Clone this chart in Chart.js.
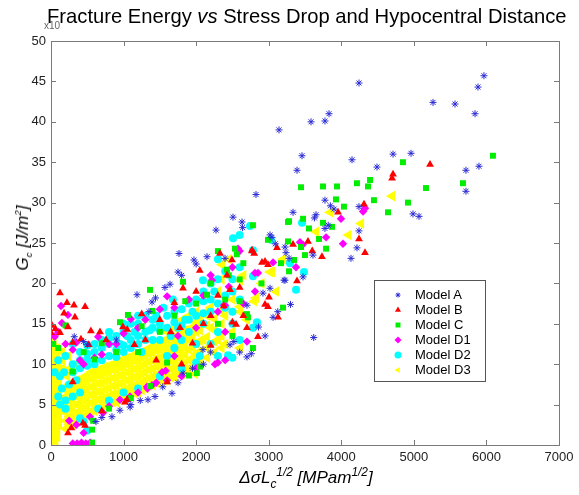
<!DOCTYPE html>
<html>
<head>
<meta charset="utf-8">
<script src="https://cdn.jsdelivr.net/npm/chart.js@4.4.0/dist/chart.umd.min.js"></script>
<style>
  body { margin: 0; background: #fff; font-family: 'Liberation Sans', Arial, sans-serif; }
  #wrap { position: relative; width: 579px; height: 495px; overflow: hidden; }
  #plot { position: absolute; left: 0; top: 0; }
  .lbl { position: absolute; white-space: nowrap; color: #000; }
  #exp { left: 44px; top: 20px; font-size: 10px; color: #666; }
  #title { left: 47px; top: 5px; font-size: 20.2px; }
  #ytitle { left: 23px; top: 238px; font-size: 17px; font-style: italic; transform: translate(-50%, -50%) rotate(-90deg); }
  #ytitle sub, #ytitle sup { font-size: 58%; }
  #xtitle { left: 306px; top: 478px; font-size: 17px; font-style: italic; transform: translate(-50%, -50%); }
  #xtitle sub, #xtitle sup { font-size: 70%; }
  #legend { position: absolute; left: 374px; top: 280px; width: 112px; height: 102px; border: 1px solid #555; background: #fff; box-sizing: border-box; padding-top: 6px; }
  #legend .row { height: 15px; display: flex; align-items: center; font-size: 13px; }
  #legend canvas { margin-left: 17px; margin-right: 11px; }
</style>
</head>
<body>
<div id="wrap">
  <canvas id="plot" width="579" height="495"></canvas>
  <div class="lbl" id="exp">x10</div>
  <div class="lbl" id="title">Fracture Energy <i>vs</i> Stress Drop and Hypocentral Distance</div>
  <div class="lbl" id="ytitle">G<sub>c</sub> [J/m<sup>2</sup>]</div>
  <div class="lbl" id="xtitle">&Delta;&sigma;L<sub>c</sub><sup>1/2</sup> [MPam<sup>1/2</sup>]</div>
  <div id="legend"></div>
</div>
<script>
// axis ticks
const xTicks = [0, 1000, 2000, 3000, 4000, 5000, 6000, 7000];
const yTicks = [0, 5, 10, 15, 20, 25, 30, 35, 40, 45, 50];

// [stress drop * sqrt(Lc), Gc] per model
const modelA = [
  [4244,44.8],[5966,45.7],[5884,44.3],[5264,42.4],[5567,42.2],[5843,41.0],
  [3142,39.0],[3583,40.0],[3775,40.1],[3831,41.0],[2825,31.0],[3459,35.8],
  [3390,34.0],[4148,35.3],[4492,34.4],[4713,36.0],[4961,36.1],[5718,34.0],
  [5897,34.5],[5718,31.4],[4988,28.6],[5071,28.3],[3775,30.3],[3850,29.6],
  [3900,29.2],[4244,29.5],[3335,28.8],[3652,28.5],[3630,28.1],[3775,26.8],
  [3820,27.2],[4244,26.5],[4216,24.4],[4134,23.1],[3045,25.7],[3090,24.9],
  [3238,23.8],[3280,23.1],[3610,23.5],[3211,20.4],[3018,19.4],[2921,18.8],
  [3473,20.8],[3620,13.3],[2508,28.2],[2632,27.6],[2640,26.9],[2274,26.6],
  [3018,26.0],[3225,24.5],[3225,20.4],[1764,23.7],[1970,22.9],[2000,22.4],
  [2150,23.3],[2398,23.1],[1750,21.4],[1800,21.0],[1570,19.5],[1640,19.9],
  [1392,17.7],[1440,18.2],[1350,16.5],[1185,18.6],[2700,17.3],[2467,12.4],
  [2520,12.8],[2700,10.9],[2760,11.3],[2094,11.8],[1750,7.7],[1667,6.4],
  [1433,6.0],[1336,5.6],[1230,5.5],[1090,4.7],[950,4.3],[840,3.5],[700,3.4],
  [1820,8.9],[2100,10.0],[2200,11.5],[3060,15.8],[3125,16.5],[2950,13.5],
  [2600,11.5],[1950,9.5],[1540,7.2],[1100,5.0],[620,2.9],[500,12.4],[450,12.8],
  [320,13.4],[900,13.0],[2860,14.6],[3300,17.4]
];
const modelB = [
  [124,18.8],[220,17.6],[317,17.3],[470,17.1],[330,15.8],[550,14.1],[675,14.0],
  [180,16.3],[14,14.8],[124,13.9],[234,14.6],[413,13.1],[0,13.9],[60,14.4],
  [300,12.7],[520,12.4],[760,13.0],[992,14.6],[1050,14.3],[1819,19.4],[2000,19.0],
  [1778,14.5],[2329,23.7],[2425,21.0],[2494,22.9],[2770,24.1],[2907,22.6],
  [2990,17.1],[3128,15.8],[2852,13.4],[2700,14.5],[5223,34.7],[4713,33.5],
  [4700,33.0],[4313,29.8],[3955,28.8],[4244,25.5],[4327,23.8],[3734,23.3],
  [3600,24.0],[3541,25.2],[3335,24.8],[3114,24.4],[3390,20.3],[2770,24.0],
  [2800,23.7],[2949,22.7],[2990,22.3],[3004,18.3],[2949,17.4],[2467,19.2],
  [2550,14.9],[1300,13.0],[1500,15.5],[1650,14.0],[2200,16.0],[2300,18.5],
  [2100,15.0],[1450,10.5],[1800,10.0],[2200,12.3],[2500,15.2],[2600,19.5],
  [440,2.7],[470,2.4],[1020,5.3],[1047,5.6],[700,4.2],[1600,7.8],[234,1.5],
  [280,2.1],[300,7.8],[1150,12.4],[2050,21.6],[1700,17.6],[2380,17.2],
  [1250,16.2],[2650,16.0],[1950,12.6]
];
const modelC = [
  [6090,35.8],[4850,35.0],[5677,32.4],[5167,31.8],[4919,30.0],[4644,28.8],
  [3445,31.9],[3748,32.0],[3941,32.0],[4216,32.4],[4368,32.0],[4396,32.8],
  [4450,30.3],[3927,30.4],[4037,29.5],[3280,27.7],[3473,28.0],[3555,26.8],
  [3748,27.5],[3872,27.0],[3693,25.5],[3790,24.3],[3445,24.5],[3500,23.5],
  [3266,25.2],[2990,25.4],[3349,22.9],[3280,21.5],[3169,22.5],[2783,27.2],
  [3266,27.6],[3197,17.0],[2714,15.8],[2535,24.3],[2560,23.6],[2425,21.7],
  [2450,21.0],[2600,20.5],[2200,20.0],[1819,20.2],[1364,19.2],[950,15.2],
  [1060,16.1],[700,12.6],[300,9.1],[2783,12.0],[2053,9.7],[1364,7.3],[2010,8.9],
  [565,0.3],[565,1.9],[580,3.0],[1500,14.0],[1700,16.0],[2000,17.5],[2300,15.0],
  [2400,18.0],[1200,11.5],[900,11.5],[450,11.5],[200,14.8],[100,12.0],[30,12.5],
  [1600,10.2],[2500,13.5],[2700,16.2],[2900,20.0],[2650,22.5],[2300,24.0],
  [800,4.5],[1100,5.8],[1900,8.6],[1250,14.7],[600,10.6],[1850,17.8],
  [2150,18.6],[1400,16.6],[2600,17.8]
];
const modelD1 = [
  [3996,28.0],[4327,29.3],[4300,28.9],[4023,24.9],[3790,25.7],[3431,25.1],
  [3470,24.8],[3376,22.0],[2852,21.3],[2577,24.3],[2600,24.0],[2811,21.3],
  [2811,19.0],[3060,22.6],[2218,20.4],[2384,17.3],[2398,17.3],[2260,10.0],
  [2300,10.2],[2400,10.5],[1530,9.0],[1580,9.2],[1392,7.4],[1330,7.0],
  [138,17.2],[234,16.1],[150,15.1],[100,14.0],[50,13.4],[200,12.5],[300,11.8],
  [400,10.5],[350,12.7],[450,10.0],[600,10.8],[700,11.2],[800,12.5],[900,12.5],
  [1000,13.8],[1200,14.5],[1300,15.5],[1500,16.8],[1700,17.0],[1900,18.0],
  [2100,18.5],[2200,21.0],[2500,22.0],[2300,16.5],[2650,17.5],[2000,14.5],
  [1750,13.5],[537,3.5],[716,4.0],[950,5.6],[1089,6.0],[1323,7.2],[1450,7.7],
  [1600,8.0],[1800,8.5],[2000,9.5],[800,4.8],[1200,6.5],[300,0.2],[360,0.2],
  [420,0.3],[480,0.2],[540,0.3],[450,1.5],[350,2.5],[250,3.0],[1700,11.0],
  [2400,14.0],[2700,12.8],[1100,15.6],[1600,18.4],[2450,19.6],[650,13.4]
];
const modelD2 = [
  [3459,27.5],[3031,25.4],[3293,22.5],[3486,21.4],[3376,19.2],[2783,20.9],
  [2742,27.1],[2508,25.6],[2783,24.1],[2838,15.2],[2783,14.5],[2440,11.1],
  [2094,20.4],[1680,18.0],[2300,23.0],[2600,26.0],
  [124,5.0],[200,5.5],[300,6.0],[400,6.5],[150,7.0],[250,7.5],[350,8.0],
  [124,8.5],[180,9.0],[100,6.0],[200,4.5],
  [900,10.9],[1000,11.5],[1100,12.0],[1200,12.5],[1300,13.0],[1360,14.2],
  [950,12.5],[1050,13.5],[1150,14.0],[1250,11.5],[1600,11.0],[1700,12.0],
  [1800,13.0],[1900,14.0],[2000,12.5],[2050,11.0],[1650,13.5],[1750,14.5],
  [1850,15.5],[1950,16.5],[2100,15.0],[2200,16.5],[2300,14.0],[2400,17.0],
  [2500,15.0],[2600,13.0],[500,10.5],[600,11.5],[700,12.0],[800,12.5],
  [400,11.5],[300,12.5],[200,11.0],[100,10.5],[50,9.0],[1400,15.5],[1500,13.0],
  [1450,16.0],[1550,17.0],[1200,16.0],[1000,15.0],[800,14.0],[2200,12.5],
  [1000,6.5],[1200,7.0],[800,5.5],[650,4.5],[400,3.3],[500,1.8],[450,2.9],
  [1500,8.5],[1800,9.5],[2000,10.2],[2300,11.0],[2500,10.8],[2250,19.0],[2100,17.8],
  // upper side of the band
  [300,9.0],[300,10.0],[400,9.5],[400,10.5],[500,9.8],[500,11.3],[500,12.3],
  [600,10.0],[600,12.5],[700,10.5],[700,13.0],[800,11.0],[800,13.2],[900,11.8],
  [900,13.5],[1000,12.3],[1000,14.0],[1100,13.0],[1100,15.0],[1200,13.5],
  [1200,15.0],[1300,14.0],[1300,16.0],[1400,13.0],[1400,14.5],[1500,14.2],
  [1500,15.0],[1600,14.5],[1600,16.0],[1700,15.2],[1700,16.5],[1800,14.8],
  [1800,16.8],[1900,15.5],[1900,17.5],[2000,16.0],[2000,18.0],[2100,16.3],
  [2100,19.0],[2200,18.0],[2200,20.0],[2300,17.5],[2300,20.5],[2400,18.5],
  [2400,21.5],[2500,19.0],[2500,20.5],[2500,16.5],[2600,18.0],[2600,22.0]
];
const modelD3 = [
  // strip along the Gc axis
  [10,0.5],[10,1.5],[10,2.5],[10,3.5],[10,4.5],[10,5.5],[10,6.5],[10,7.5],[10,8.5],[10,9.5],[10,10.5],[10,11.5],[10,12.5],
  [35,1.0],[35,2.0],[35,3.0],[35,4.0],[35,5.0],[35,6.0],[35,7.0],[35,8.0],[35,9.0],[35,10.0],[35,11.0],[35,12.0],[35,13.0],
  [60,0.5],[60,1.5],[60,2.5],[60,3.5],[60,4.5],[60,5.5],[60,6.5],[60,7.5],[60,8.5],[60,9.5],[60,10.5],[60,11.5],
  [85,1.0],[85,2.0],[85,3.0],[85,4.0],[85,5.0],[85,6.0],[85,7.0],[85,8.0],[85,9.0],[85,10.0],[85,11.0],[85,12.0],
  [110,2.5],[110,3.5],[110,4.5],[110,5.5],[110,6.5],[110,7.5],[110,8.5],[110,9.5],
  [160,9.5],[160,10.5],[220,8.5],[260,9.5],[320,10.0],[150,11.5],[240,11.0],
  // main band
  [200,2.0],[200,3.0],[200,4.0],[200,5.0],[200,6.0],[200,7.0],
  [250,2.5],[250,3.5],[250,4.5],[250,5.5],[250,6.5],[250,7.5],
  [300,2.5],[300,3.5],[300,4.5],[300,5.5],[300,6.5],[300,7.5],
  [350,3.0],[350,4.0],[350,5.0],[350,6.0],[350,7.0],[350,8.0],
  [400,3.0],[400,4.0],[400,5.0],[400,6.0],[400,7.0],[400,8.0],
  [450,3.5],[450,4.5],[450,5.5],[450,6.5],[450,7.5],[450,8.4],
  [500,3.8],[500,4.8],[500,5.8],[500,6.8],[500,7.8],[500,8.6],
  [550,4.2],[550,5.2],[550,6.2],[550,7.2],[550,8.2],[550,9.0],
  [600,4.2],[600,5.2],[600,6.2],[600,7.2],[600,8.2],[600,9.0],
  [650,4.6],[650,5.6],[650,6.6],[650,7.6],[650,8.6],[650,9.3],
  [700,4.6],[700,5.6],[700,6.6],[700,7.6],[700,8.6],[700,9.4],
  [750,4.9],[750,5.9],[750,6.9],[750,7.9],[750,8.9],[750,9.7],
  [800,5.0],[800,6.0],[800,7.0],[800,8.0],[800,9.0],[800,9.8],
  [850,5.3],[850,6.3],[850,7.3],[850,8.3],[850,9.3],[850,10.0],
  [900,5.3],[900,6.3],[900,7.3],[900,8.3],[900,9.3],[900,10.1],
  [950,5.6],[950,6.6],[950,7.6],[950,8.6],[950,9.6],[950,10.4],
  [1000,5.7],[1000,6.7],[1000,7.7],[1000,8.7],[1000,9.7],[1000,10.5],
  [1050,6.0],[1050,7.0],[1050,8.0],[1050,9.0],[1050,10.0],[1050,10.8],
  [1100,6.0],[1100,7.0],[1100,8.0],[1100,9.0],[1100,10.0],[1100,10.8],
  [1150,6.4],[1150,7.4],[1150,8.4],[1150,9.4],[1150,10.4],[1150,11.2],
  [1200,6.5],[1200,7.5],[1200,8.5],[1200,9.5],[1200,10.5],[1200,11.2],
  [1250,6.8],[1250,7.8],[1250,8.8],[1250,9.8],[1250,10.8],[1250,11.5],
  [1300,7.0],[1300,8.0],[1300,9.0],[1300,10.0],[1300,11.0],[1300,11.6],
  [1350,7.3],[1350,8.3],[1350,9.3],[1350,10.3],[1350,11.3],[1350,12.0],
  [1400,7.4],[1400,8.4],[1400,9.4],[1400,10.4],[1400,11.4],[1400,12.0],
  [1450,7.7],[1450,8.7],[1450,9.7],[1450,10.7],[1450,11.7],[1450,12.4],
  [1500,7.8],[1500,8.8],[1500,9.8],[1500,10.8],[1500,11.8],[1500,12.5],
  [1550,8.0],[1550,9.0],[1550,10.0],[1550,11.0],[1550,12.0],[1550,12.9],
  [1600,8.0],[1600,9.0],[1600,10.0],[1600,11.0],[1600,12.0],[1600,13.0],
  [1650,8.4],[1650,9.4],[1650,10.4],[1650,11.4],[1650,12.4],[1650,13.3],
  [1700,8.4],[1700,9.4],[1700,10.4],[1700,11.4],[1700,12.4],[1700,13.3],
  [1750,8.8],[1750,9.8],[1750,10.8],[1750,11.8],[1750,12.8],[1750,13.7],
  [1800,8.8],[1800,9.8],[1800,10.8],[1800,11.8],[1800,12.8],[1800,13.8],
  [1850,9.2],[1850,10.2],[1850,11.2],[1850,12.2],[1850,13.2],[1850,14.2],
  [1900,9.2],[1900,10.5],[1900,11.8],[1900,13.0],[1900,14.3],
  [1950,9.7],[1950,10.8],[1950,12.0],[1950,13.3],[1950,14.6],
  [2000,10.0],[2000,11.3],[2000,12.6],[2000,14.0],[2000,15.2],
  [2050,10.3],[2050,11.6],[2050,12.9],[2050,14.2],[2050,15.5],
  [2150,10.8],[2150,12.0],[2150,13.4],[2150,14.8],[2150,16.0],
  [2250,11.4],[2250,12.8],[2250,14.2],[2250,15.6],
  [2350,12.0],[2350,13.5],[2350,15.0],[2350,16.6],
  // scattered
  [2604,17.1],[3018,21.4],[2604,12.0],[1985,8.8],[3200,23.0],[4700,30.8],
  [4272,27.4],[3845,28.8],[3652,26.4],[3197,23.0],[3045,21.4],[2825,18.2],
  [2604,16.5],[2356,22.3],[2604,20.4],[2200,17.0],[2300,19.0],[2400,16.0],
  [2500,18.0],[2150,16.5],[2700,15.5],[2800,17.8],[2350,20.5],[2450,23.0],
  [2900,20.0],[2100,13.0],[2200,14.5],[2300,13.0],[2500,14.0],[3100,19.0],
  [2650,21.0],[4100,26.0],[1700,14.5],[1800,15.5],[1900,16.0],[2000,16.5],
  [2100,18.0],[1600,14.0],[1550,8.4],[2400,12.5]
];

const series = [
  { label: 'Model A',  pts: modelA,  style: 'star',     color: '#2b2bd6', radius: 3.5, rotation: 0,   border: 1 },
  { label: 'Model B',  pts: modelB,  style: 'triangle', color: '#ff0000', radius: 4.5, rotation: 0,   border: 0 },
  { label: 'Model C',  pts: modelC,  style: 'rect',     color: '#00ee00', radius: 4.2, rotation: 0,   border: 0 },
  { label: 'Model D1', pts: modelD1, style: 'rectRot',  color: '#ff00ff', radius: 4.2, rotation: 0,   border: 0 },
  { label: 'Model D2', pts: modelD2, style: 'circle',   color: '#00ffff', radius: 4,   rotation: 0,   border: 0 },
  { label: 'Model D3', pts: modelD3, style: 'triangle', color: '#ffff00', radius: 4.3, rotation: -90, border: 1.8 }
];

// matlab-style box with inward ticks on all four sides
const boxTicks = {
  id: 'boxTicks',
  afterDatasetsDraw(chart) {
    const { ctx, chartArea: a, scales: { x, y } } = chart;
    ctx.save();
    ctx.strokeStyle = '#7a7a7a';
    ctx.lineWidth = 1;
    ctx.beginPath();
    xTicks.forEach(v => {
      const p = Math.round(x.getPixelForValue(v)) + 0.5;
      ctx.moveTo(p, a.bottom); ctx.lineTo(p, a.bottom - 5);
      ctx.moveTo(p, a.top); ctx.lineTo(p, a.top + 5);
    });
    yTicks.forEach(v => {
      const p = Math.round(y.getPixelForValue(v)) + 0.5;
      ctx.moveTo(a.left, p); ctx.lineTo(a.left + 5, p);
      ctx.moveTo(a.right, p); ctx.lineTo(a.right - 5, p);
    });
    ctx.stroke();
    ctx.strokeRect(Math.round(a.left) + 0.5, Math.round(a.top) + 0.5,
      Math.round(a.right - a.left), Math.round(a.bottom - a.top));
    ctx.restore();
  }
};

new Chart(document.getElementById('plot'), {
  type: 'scatter',
  data: {
    datasets: series.map(s => ({
      label: s.label,
      data: s.pts.map(p => ({ x: p[0], y: p[1] })),
      pointStyle: s.style,
      pointRadius: s.radius,
      pointRotation: s.rotation,
      pointBorderWidth: s.border,
      borderColor: s.color,
      backgroundColor: s.color
    }))
  },
  options: {
    responsive: false,
    animation: false,
    events: [],
    layout: { padding: { left: 0, right: 20, top: 41, bottom: 0 } },
    plugins: { legend: { display: false }, tooltip: { enabled: false } },
    scales: {
      x: {
        type: 'linear', min: 0, max: 7000,
        grid: { display: false, drawTicks: false },
        border: { display: false },
        afterFit(s) { s.height = 50; },
        afterBuildTicks(s) { s.ticks = xTicks.map(v => ({ value: v })); },
        ticks: { autoSkip: false, maxRotation: 0, padding: 5, color: '#222',
                 callback: v => String(v),
                 font: { family: "'Liberation Sans', Arial", size: 13 } }
      },
      y: {
        type: 'linear', min: 0, max: 50,
        grid: { display: false, drawTicks: false },
        border: { display: false },
        afterFit(s) { s.width = 51; },
        afterBuildTicks(s) { s.ticks = yTicks.map(v => ({ value: v })); },
        ticks: { autoSkip: false, padding: 5, color: '#222',
                 callback: v => String(v),
                 font: { family: "'Liberation Sans', Arial", size: 13 } }
      }
    }
  },
  plugins: [boxTicks]
});

// legend box
const legend = document.getElementById('legend');
series.forEach(s => {
  const row = document.createElement('div');
  row.className = 'row';
  const c = document.createElement('canvas');
  c.width = 12; c.height = 12;
  const cx = c.getContext('2d');
  cx.fillStyle = s.color;
  cx.strokeStyle = s.color;
  cx.lineWidth = 1;
  Chart.helpers.drawPoint(cx, {
    pointStyle: s.style,
    radius: s.style === 'star' ? 2.5 : 3.5,
    rotation: s.rotation,
    borderWidth: s.style === 'star' ? 1 : 0
  }, 6, 6);
  const t = document.createElement('span');
  t.textContent = s.label;
  row.appendChild(c);
  row.appendChild(t);
  legend.appendChild(row);
});
</script>
</body>
</html>
